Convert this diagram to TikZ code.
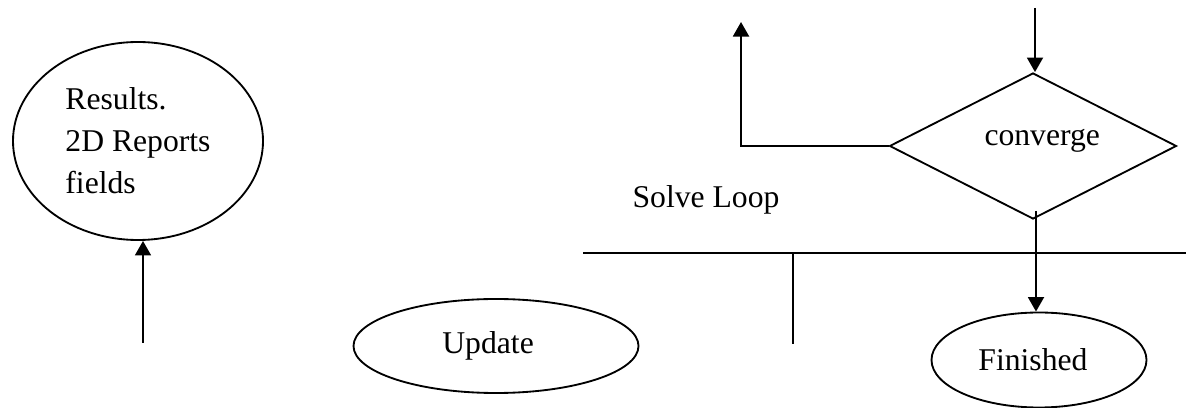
\documentclass[tikz,border=0pt]{standalone}
\usepackage{fontspec}
\setmainfont{Liberation Serif}
\usetikzlibrary{arrows.meta,shapes.geometric}

\begin{document}
\begin{tikzpicture}[
x=0.379pt, y=-0.379pt,
oval/.style={draw, ellipse, line width=0.7pt, inner sep=0pt, font=\fontsize{12}{15.9}\selectfont},
decision/.style={draw, diamond, line width=0.7pt, inner sep=0pt, font=\fontsize{12}{15.9}\selectfont, minimum width=287*0.379pt, minimum height=146*0.379pt},
plain/.style={font=\fontsize{12}{15.9}\selectfont, inner sep=0pt},
arr/.style={-{Triangle[length=5.5pt,width=6pt]}, line width=0.9pt},
ln/.style={line width=0.7pt}
]
\useasboundingbox (0,0) rectangle (1186,408);
\node[oval, align=left, minimum width=250*0.379pt, minimum height=198*0.379pt] (results) at (138,141) {Results.\\2D Reports\\fields};
\node[oval, minimum width=285*0.379pt, minimum height=94*0.379pt] (update) at (496,346) {\hspace*{-3pt}Update\hspace*{3pt}};
\node[oval, minimum width=215*0.379pt, minimum height=95*0.379pt] (finished) at (1039,360) {\hspace*{-2.3pt}Finished\hspace*{2.3pt}};
\node[decision] (conv) at (1033,146) {\raisebox{2pt}[\height][\depth]{\hspace*{3.5pt}converge\hspace*{-3.5pt}}};
\node[plain, anchor=base] (solve) at (706,208) {Solve Loop};
\coordinate (resin) at (143,343);
\coordinate (convin) at (1035,8);
\coordinate (convout) at (1036,211);
\coordinate (loopup) at (741,22);
\coordinate (busL) at (583,253);
\coordinate (busR) at (1186,253);
\coordinate (tick) at (793,344);
\draw[arr] (resin) -- (resin |- results.south);
\draw[arr] (convin) -- (convin |- conv.north);
\draw[arr] (conv.west) -| (loopup);
\draw[ln] (busL) -- (busR);
\draw[ln] (tick |- busL) -- (tick);
\draw[arr] (convout) -- (convout |- finished.north);
\end{tikzpicture}
\end{document}
